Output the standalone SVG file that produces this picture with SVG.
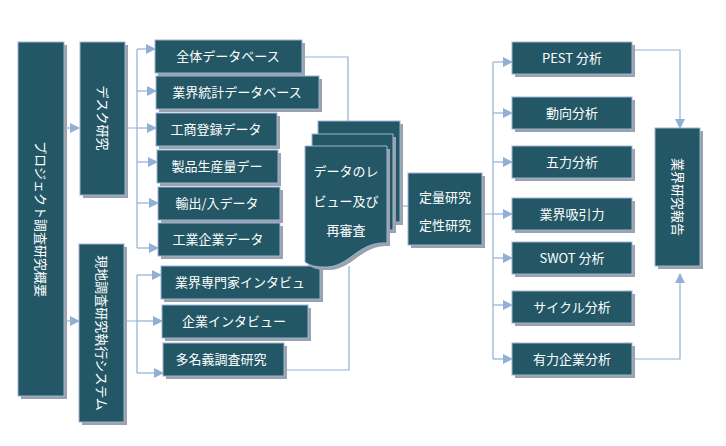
<svg xmlns="http://www.w3.org/2000/svg" width="726" height="446" viewBox="0 0 726 446">
<defs>
<style>
.b{fill:#235766;stroke:#9db4d4;stroke-width:1}
.s{fill:#9aa3ad}
.t{fill:#fff;font-family:"Noto Sans CJK JP","Liberation Sans",sans-serif;font-size:13px;text-anchor:middle}
.c{fill:none;stroke:#92b0d6;stroke-width:1.2}
</style>
<marker id="a" markerWidth="10" markerHeight="10" refX="9" refY="5" orient="auto" markerUnits="userSpaceOnUse"><path d="M0,0L10,5L0,10z" fill="#92b0d6"/></marker>
</defs>
<rect width="726" height="446" fill="#fff"/>
<g id="connectors">
<path class="c" d="M64,128H79" marker-end="url(#a)"/>
<path class="c" d="M64,321H79" marker-end="url(#a)"/>
<path class="c" d="M125,128H137M137,49V248"/>
<path class="c" d="M137,49H155" marker-end="url(#a)"/>
<path class="c" d="M137,91H156" marker-end="url(#a)"/>
<path class="c" d="M137,128H156" marker-end="url(#a)"/>
<path class="c" d="M137,162H157" marker-end="url(#a)"/>
<path class="c" d="M137,203H158" marker-end="url(#a)"/>
<path class="c" d="M137,248H158" marker-end="url(#a)"/>
<path class="c" d="M124,321H137M137,275V373"/>
<path class="c" d="M137,275H161" marker-end="url(#a)"/>
<path class="c" d="M137,321H162" marker-end="url(#a)"/>
<path class="c" d="M137,373H163" marker-end="url(#a)"/>
<path class="c" d="M302,57H348V128"/>
<path class="c" d="M284,370H349V266"/>
<path class="c" d="M388,206H408"/>
<path class="c" d="M482,214H493M493,62V359"/>
<path class="c" d="M493,62H512" marker-end="url(#a)"/>
<path class="c" d="M493,113H512" marker-end="url(#a)"/>
<path class="c" d="M493,162H512" marker-end="url(#a)"/>
<path class="c" d="M493,214H512" marker-end="url(#a)"/>
<path class="c" d="M493,258H512" marker-end="url(#a)"/>
<path class="c" d="M493,305H512" marker-end="url(#a)"/>
<path class="c" d="M493,359H512" marker-end="url(#a)"/>
<path class="c" d="M632,50H680V128" marker-end="url(#a)"/>
<path class="c" d="M632,359H680V274" marker-end="url(#a)"/>
</g>
<g id="n-main"><rect class="s" x="21" y="45" width="46" height="354"/><rect class="b" x="18" y="42" width="46" height="354"/>
<text class="t" transform="translate(41,219) rotate(90)" dy="5">プロジェクト調査研究概要</text></g>
<g id="n-desk"><rect class="s" x="83" y="45" width="45" height="153"/><rect class="b" x="80" y="42" width="45" height="153"/>
<text class="t" transform="translate(102.5,118) rotate(90)" dy="5">デスク研究</text></g>
<g id="n-field"><rect class="s" x="82" y="247" width="45" height="178"/><rect class="b" x="79" y="244" width="45" height="178"/>
<text class="t" transform="translate(101.5,333) rotate(90)" dy="5">現地調査研究執行システム</text></g>
<g id="n1"><rect class="s" x="158" y="43" width="147" height="33"/><rect class="b" x="155" y="40" width="147" height="33"/><text class="t" x="228" y="61">全体データベース</text></g>
<g id="n2"><rect class="s" x="159" y="79" width="163" height="33"/><rect class="b" x="156" y="76" width="163" height="33"/><text class="t" x="237" y="97">業界統計データベース</text></g>
<g id="n3"><rect class="s" x="159" y="116" width="121" height="33"/><rect class="b" x="156" y="113" width="121" height="33"/><text class="t" x="216" y="134">工商登録データ</text></g>
<g id="n4"><rect class="s" x="160" y="153" width="121" height="33"/><rect class="b" x="157" y="150" width="121" height="33"/><text class="t" x="217" y="171">製品生産量デー</text></g>
<g id="n5"><rect class="s" x="161" y="190" width="122" height="33"/><rect class="b" x="158" y="187" width="122" height="33"/><text class="t" x="217" y="208">輸出/入データ</text></g>
<g id="n6"><rect class="s" x="161" y="226" width="122" height="33"/><rect class="b" x="158" y="223" width="122" height="33"/><text class="t" x="218" y="244">工業企業データ</text></g>
<g id="n7"><rect class="s" x="164" y="269" width="159" height="33"/><rect class="b" x="161" y="266" width="159" height="33"/><text class="t" x="240" y="287">業界専門家インタビュ</text></g>
<g id="n8"><rect class="s" x="165" y="308" width="146" height="33"/><rect class="b" x="162" y="305" width="146" height="33"/><text class="t" x="234" y="326">企業インタビュー</text></g>
<g id="n9"><rect class="s" x="166" y="346" width="121" height="33"/><rect class="b" x="163" y="343" width="121" height="33"/><text class="t" x="221" y="364">多名義調査研究</text></g>
<g id="n-doc">
<rect class="s" x="321" y="124" width="82" height="101"/><rect class="b" x="318" y="121" width="82" height="101"/>
<rect class="s" x="315" y="137" width="81" height="96"/><rect class="b" x="312" y="134" width="81" height="96"/>
<path class="s" d="M308,149H390V246C360,244 352,272 326,270C318,270 312,268 308,265Z"/>
<path class="b" d="M305,146H387V243C357,241 349,269 323,267C315,267 309,265 305,262Z"/>
<text class="t" x="346" y="176">データのレ</text><text class="t" x="346" y="206">ビュー及び</text><text class="t" x="346" y="235">再審査</text></g>
<g id="n-quant"><rect class="s" x="411" y="176" width="74" height="72"/><rect class="b" x="408" y="173" width="74" height="72"/>
<text class="t" x="445" y="202">定量研究</text><text class="t" x="445" y="230">定性研究</text></g>
<g id="r1"><rect class="s" x="515" y="45" width="120" height="32"/><rect class="b" x="512" y="42" width="120" height="32"/><text class="t" x="572" y="63">PEST 分析</text></g>
<g id="r2"><rect class="s" x="515" y="100" width="120" height="32"/><rect class="b" x="512" y="97" width="120" height="32"/><text class="t" x="572" y="118">動向分析</text></g>
<g id="r3"><rect class="s" x="515" y="149" width="120" height="32"/><rect class="b" x="512" y="146" width="120" height="32"/><text class="t" x="572" y="167">五力分析</text></g>
<g id="r4"><rect class="s" x="515" y="201" width="120" height="32"/><rect class="b" x="512" y="198" width="120" height="32"/><text class="t" x="572" y="219">業界吸引力</text></g>
<g id="r5"><rect class="s" x="515" y="245" width="120" height="32"/><rect class="b" x="512" y="242" width="120" height="32"/><text class="t" x="572" y="263">SWOT 分析</text></g>
<g id="r6"><rect class="s" x="515" y="294" width="120" height="32"/><rect class="b" x="512" y="291" width="120" height="32"/><text class="t" x="572" y="312">サイクル分析</text></g>
<g id="r7"><rect class="s" x="515" y="346" width="120" height="32"/><rect class="b" x="512" y="343" width="120" height="32"/><text class="t" x="572" y="364">有力企業分析</text></g>
<g id="n-report"><rect class="s" x="658" y="131" width="45" height="138"/><rect class="b" x="655" y="128" width="45" height="138"/>
<text class="t" transform="translate(677.5,197) rotate(90)" dy="5">業界研究報告</text></g>
</svg>
